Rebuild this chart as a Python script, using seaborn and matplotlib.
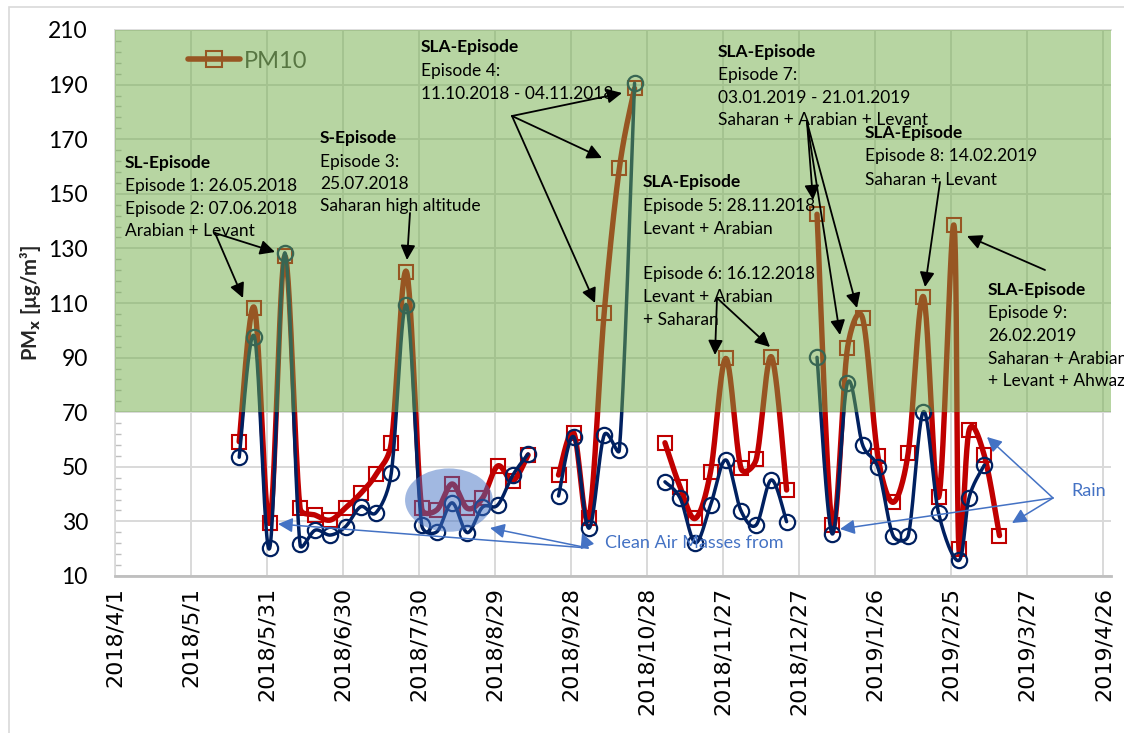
import numpy as np
import pandas as pd
import matplotlib
matplotlib.use("Agg")
import matplotlib.pyplot as plt
import matplotlib.dates as mdates
from matplotlib.patches import Ellipse, Rectangle
from matplotlib.lines import Line2D
from matplotlib.ticker import FixedLocator, FuncFormatter
import seaborn as sns

# ---------------- data ----------------
pm10_dates = ["2018-05-20", "2018-05-26", "2018-06-01", "2018-06-07", "2018-06-13", "2018-06-19",
              "2018-06-25", "2018-07-01", "2018-07-07", "2018-07-13", "2018-07-19", "2018-07-25",
              "2018-07-31", "2018-08-06", "2018-08-12", "2018-08-18", "2018-08-24", "2018-08-30",
              "2018-09-05", "2018-09-11", "2018-09-17", "2018-09-23", "2018-09-29", "2018-10-05",
              "2018-10-11", "2018-10-17", "2018-10-23", "2018-10-29", "2018-11-04", "2018-11-10",
              "2018-11-16", "2018-11-22", "2018-11-28", "2018-12-04", "2018-12-10", "2018-12-16",
              "2018-12-22", "2018-12-28", "2019-01-03", "2019-01-09", "2019-01-15", "2019-01-21",
              "2019-01-27", "2019-02-02", "2019-02-08", "2019-02-14", "2019-02-20", "2019-02-26",
              "2019-02-28", "2019-03-04", "2019-03-10", "2019-03-16"]
pm10 = [59.2, 108.2, 29.3, 127.2, 35.0, 32.3,
        30.5, 35.0, 40.3, 47.2, 58.6, 121.5,
        34.8, 34.2, 43.7, 34.8, 38.5, 50.3,
        44.9, 54.3, None, 47.0, 62.4, 31.2,
        106.2, 159.3, 188.6, None, 58.8, 42.5,
        31.1, 48.2, 89.7, 49.5, 52.7, 90.3,
        41.5, None, 142.5, 28.7, 93.4, 104.4,
        54.0, 37.0, 55.2, 112.3, 38.9, 138.6,
        20.0, 63.3, 54.2, 24.8]

pm25_dates = ["2018-05-20", "2018-05-26", "2018-06-01", "2018-06-07", "2018-06-13", "2018-06-19",
              "2018-06-25", "2018-07-01", "2018-07-07", "2018-07-13", "2018-07-19", "2018-07-25",
              "2018-07-31", "2018-08-06", "2018-08-12", "2018-08-18", "2018-08-24", "2018-08-30",
              "2018-09-05", "2018-09-11", "2018-09-17", "2018-09-23", "2018-09-29", "2018-10-05",
              "2018-10-11", "2018-10-17", "2018-10-23", "2018-10-29", "2018-11-04", "2018-11-10",
              "2018-11-16", "2018-11-22", "2018-11-28", "2018-12-04", "2018-12-10", "2018-12-16",
              "2018-12-22", "2018-12-28", "2019-01-03", "2019-01-09", "2019-01-15", "2019-01-21",
              "2019-01-27", "2019-02-02", "2019-02-08", "2019-02-14", "2019-02-20",
              "2019-02-28", "2019-03-04", "2019-03-10"]
pm25 = [53.5, 97.7, 20.1, 128.4, 21.6, 26.8,
        25.0, 28.1, 35.4, 33.2, 47.6, 109.3,
        28.7, 26.2, 36.8, 25.9, 35.2, 36.0,
        47.0, 54.7, None, 39.3, 61.0, 27.5,
        61.6, 56.2, 190.5, None, 44.5, 38.5,
        22.2, 36.0, 52.5, 33.9, 28.7, 45.2,
        29.9, None, 90.1, 25.4, 80.6, 58.0,
        49.8, 24.8, 24.8, 70.2, 32.9,
        15.7, 38.7, 50.6]

x_tick_dates = ["2018-04-01", "2018-05-01", "2018-05-31", "2018-06-30", "2018-07-30", "2018-08-29",
                "2018-09-28", "2018-10-28", "2018-11-27", "2018-12-27", "2019-01-26", "2019-02-25",
                "2019-03-27", "2019-04-26"]
y_ticks = [10, 30, 50, 70, 90, 110, 130, 150, 170, 190, 210]
threshold = 70
legend_label = "PM10"

RED = "#C00000"
NAVY = "#002060"
BLUE = "#4472C4"
GREEN = "#70AD47"

# ---------------- figure ----------------
sns.set_theme(style="white")
plt.rcParams["font.family"] = ["Lato", "DejaVu Sans"]

W, H = 1124, 733
fig = plt.figure(figsize=(W / 100, H / 100), dpi=100)
L, R, T, B = 115, 1111, 30, 576
ax = fig.add_axes([L / W, 1 - B / H, (R - L) / W, (B - T) / H])

x0 = mdates.date2num(pd.Timestamp("2018-04-01"))
x1 = mdates.date2num(pd.Timestamp("2019-04-29"))
ax.set_xlim(x0, x1)
ax.set_ylim(10, 210)

sx = (R - L) / (x1 - x0)     # px per day
sy = (B - T) / 200.0          # px per unit


def smooth_segments(dates, vals, n=28):
    """Excel-like smoothed line (Bezier with capped 1/6 tangents) per contiguous segment."""
    xs = mdates.date2num(pd.to_datetime(dates))
    rows, cur = [], []
    for xv, yv in zip(xs, vals):
        if yv is None:
            if cur:
                rows.append(cur)
            cur = []
        else:
            cur.append((xv, yv))
    if cur:
        rows.append(cur)
    out = []
    t = np.linspace(0, 1, n)[:, None]
    for s_id, pts in enumerate(rows):
        P = np.array(pts, dtype=float) * [sx, sy]
        if len(P) < 2:
            continue
        E = np.vstack([P[0], P, P[-1]])
        for i in range(len(P) - 1):
            p0, p1, p2, p3 = E[i], E[i + 1], E[i + 2], E[i + 3]
            d12 = np.linalg.norm(p2 - p1)
            d02 = np.linalg.norm(p2 - p0)
            d13 = np.linalg.norm(p3 - p1)
            f1 = 1 / 6.0
            if d02 > 0 and d02 / 6.0 > d12 / 2.0:
                f1 = d12 / (2.0 * d02)
            f2 = 1 / 6.0
            if d13 > 0 and d13 / 6.0 > d12 / 2.0:
                f2 = d12 / (2.0 * d13)
            c1 = p1 + (p2 - p0) * f1
            c2 = p2 - (p3 - p1) * f2
            Bz = (1 - t) ** 3 * p1 + 3 * (1 - t) ** 2 * t * c1 + 3 * (1 - t) * t ** 2 * c2 + t ** 3 * p2
            if i > 0:
                Bz = Bz[1:]
            for bx, by in Bz:
                out.append((bx / sx, by / sy, s_id))
    return pd.DataFrame(out, columns=["x", "y", "seg"])


df10 = smooth_segments(pm10_dates, pm10)
df25 = smooth_segments(pm25_dates, pm25)

sns.lineplot(data=df10, x="x", y="y", units="seg", estimator=None, sort=False,
             color=RED, lw=3.9, ax=ax, zorder=2, legend=False)
p10 = pd.DataFrame({"x": mdates.date2num(pd.to_datetime(pm10_dates)),
                    "y": [np.nan if v is None else v for v in pm10]}).dropna()
ax.plot(p10["x"], p10["y"], ls="none", marker="s", ms=9.5, mfc="none", mec=RED, mew=1.5, zorder=2.1)

sns.lineplot(data=df25, x="x", y="y", units="seg", estimator=None, sort=False,
             color=NAVY, lw=2.5, ax=ax, zorder=2.2, legend=False)
p25 = pd.DataFrame({"x": mdates.date2num(pd.to_datetime(pm25_dates)),
                    "y": [np.nan if v is None else v for v in pm25]}).dropna()
ax.plot(p25["x"], p25["y"], ls="none", marker="o", ms=11, mfc="none", mec=NAVY, mew=1.6, zorder=2.3)

# highlight ellipse (clean air period)
ax.add_patch(Ellipse((mdates.date2num(pd.Timestamp("2018-08-10 18:00")), 37.8), 34.6, 23.2,
                     facecolor=BLUE, alpha=0.5, edgecolor="none", zorder=2.5))

# translucent green band above threshold
ax.axhspan(threshold, 210, facecolor=GREEN, alpha=0.5, lw=0, zorder=3)

# ---------------- axes styling ----------------
ax.set_axisbelow(True)
ax.set_xticks(mdates.date2num(pd.to_datetime(x_tick_dates)))
ax.xaxis.set_major_formatter(FuncFormatter(
    lambda v, p: (lambda d: f"{d.year}/{d.month}/{d.day}")(mdates.num2date(v))))
ax.xaxis.set_minor_locator(FixedLocator(np.arange(x0, x1 + 0.1, 1.6)))
ax.set_yticks(y_ticks)
ax.yaxis.set_minor_locator(FixedLocator(np.arange(10, 211, 4)))
ax.grid(True, which="major", color="#D9D9D9", lw=1.4)
ax.tick_params(axis="x", which="major", labelsize=16, rotation=90, length=6, width=1.2,
               color="#BFBFBF", pad=2, labelcolor="black")
ax.tick_params(axis="x", which="minor", length=4, width=1.3, color="#BFBFBF", direction="in")
ax.tick_params(axis="y", which="major", labelsize=16.5, length=11, width=1.2, color="#BFBFBF",
               direction="inout", pad=14, labelcolor="black")
ax.tick_params(axis="y", which="minor", length=4, width=1.0, color="#BFBFBF", direction="in", left=True)
for lab in ax.get_xticklabels():
    lab.set_family(["DejaVu Sans"])
ax.spines["right"].set_visible(False)
ax.spines["top"].set_color("#D9D9D9")
ax.spines["left"].set_color("#D9D9D9")
ax.spines["bottom"].set_color("#BFBFBF")
ax.spines["bottom"].set_linewidth(2)
ax.set_xlabel("")
ax.set_ylabel("PM$_\\mathbf{x}$ [µg/m³]", fontsize=14.5, fontweight="bold", labelpad=4)

# legend (under the translucent band)
h = Line2D([], [], color=RED, lw=4, marker="s", ms=11, mfc="none", mec=RED, mew=1.5)
leg = ax.legend([h], [legend_label], loc="center left", bbox_to_anchor=((188 - L) / (R - L), (B - 61) / (B - T)),
                frameon=False, fontsize=17, handlelength=2.2, handletextpad=0.15, borderpad=0,
                borderaxespad=0, labelcolor="#404040")
leg.set_zorder(1.5)


# ---------------- annotations ----------------
def fx(px):
    return (px - L) / (R - L)


def fy(py):
    return (B - py) / (B - T)


blocks = [
    (125, [163, 186, 209, 231], ["SL-Episode", "Episode 1: 26.05.2018", "Episode 2: 07.06.2018", "Arabian + Levant"]),
    (320, [138, 161.5, 184, 206.5], ["S-Episode", "Episode 3:", "25.07.2018", "Saharan high altitude"]),
    (421, [47, 71, 94], ["SLA-Episode", "Episode 4:", "11.10.2018 - 04.11.2018"]),
    (643, [182.5, 206, 229], ["SLA-Episode", "Episode 5: 28.11.2018", "Levant + Arabian"]),
    (643, [274, 297.5, 320], ["Episode 6: 16.12.2018", "Levant + Arabian", "+ Saharan"]),
    (718, [52, 75, 98, 120], ["SLA-Episode", "Episode 7:", "03.01.2019 - 21.01.2019", "Saharan + Arabian + Levant"]),
    (865, [133, 156, 180], ["SLA-Episode", "Episode 8: 14.02.2019", "Saharan + Levant"]),
    (988, [290, 313, 336, 358.5, 381], ["SLA-Episode", "Episode 9:", "26.02.2019", "Saharan + Arabian", "+ Levant + Ahwaz"]),
]
for xpx, ys, lines in blocks:
    for ypx, s in zip(ys, lines):
        bold = s.endswith("-Episode")
        ax.text(fx(xpx), fy(ypx), s, transform=ax.transAxes, ha="left", va="center",
                fontsize=12.5, fontweight="bold" if bold else "normal", color="black",
                zorder=4, clip_on=False)

black_arrows = [
    ((215, 233), (243, 298)), ((215, 233), (275, 252)),
    ((410, 213), (407, 260)),
    ((512, 116), (622, 93)), ((512, 116), (602, 158)), ((512, 116), (595, 303)),
    ((717, 298), (715, 355)), ((717, 298), (770, 347)),
    ((807, 122), (813, 200)), ((807, 122), (840, 335)), ((807, 122), (857, 308)),
    ((940, 182), (925, 287)),
    ((1045, 270), (967, 236)),
]
for (ox, oy), (tx, ty) in black_arrows:
    ax.annotate("", xy=(fx(tx), fy(ty)), xytext=(fx(ox), fy(oy)), xycoords="axes fraction",
                arrowprops=dict(arrowstyle="-|>", color="black", lw=1.3, mutation_scale=22,
                                shrinkA=0, shrinkB=0), zorder=4)

ax.text(fx(605), fy(543.5), "Clean Air Masses from", transform=ax.transAxes, ha="left", va="center",
        fontsize=13, color=BLUE, zorder=4)
ax.text(fx(1071), fy(491), "Rain", transform=ax.transAxes, ha="left", va="center",
        fontsize=13, color=BLUE, zorder=4)
blue_arrows = [
    ((588, 548), (278, 524)), ((588, 548), (490, 528)), ((588, 548), (582, 533)),
    ((1053, 498), (840, 529)), ((1053, 498), (987, 437)), ((1053, 498), (1012, 523)),
]
for (ox, oy), (tx, ty) in blue_arrows:
    ax.annotate("", xy=(fx(tx), fy(ty)), xytext=(fx(ox), fy(oy)), xycoords="axes fraction",
                arrowprops=dict(arrowstyle="-|>", color=BLUE, lw=1.1, mutation_scale=22,
                                shrinkA=0, shrinkB=0), zorder=4)

# outer chart border (left and top edges visible)
fig.patches.append(Rectangle((8.5 / W, -0.1), 1.2, 1.1 - 7 / H, transform=fig.transFigure,
                             fill=False, edgecolor="#D9D9D9", lw=1.2))

fig.savefig("out.png", dpi=100)
